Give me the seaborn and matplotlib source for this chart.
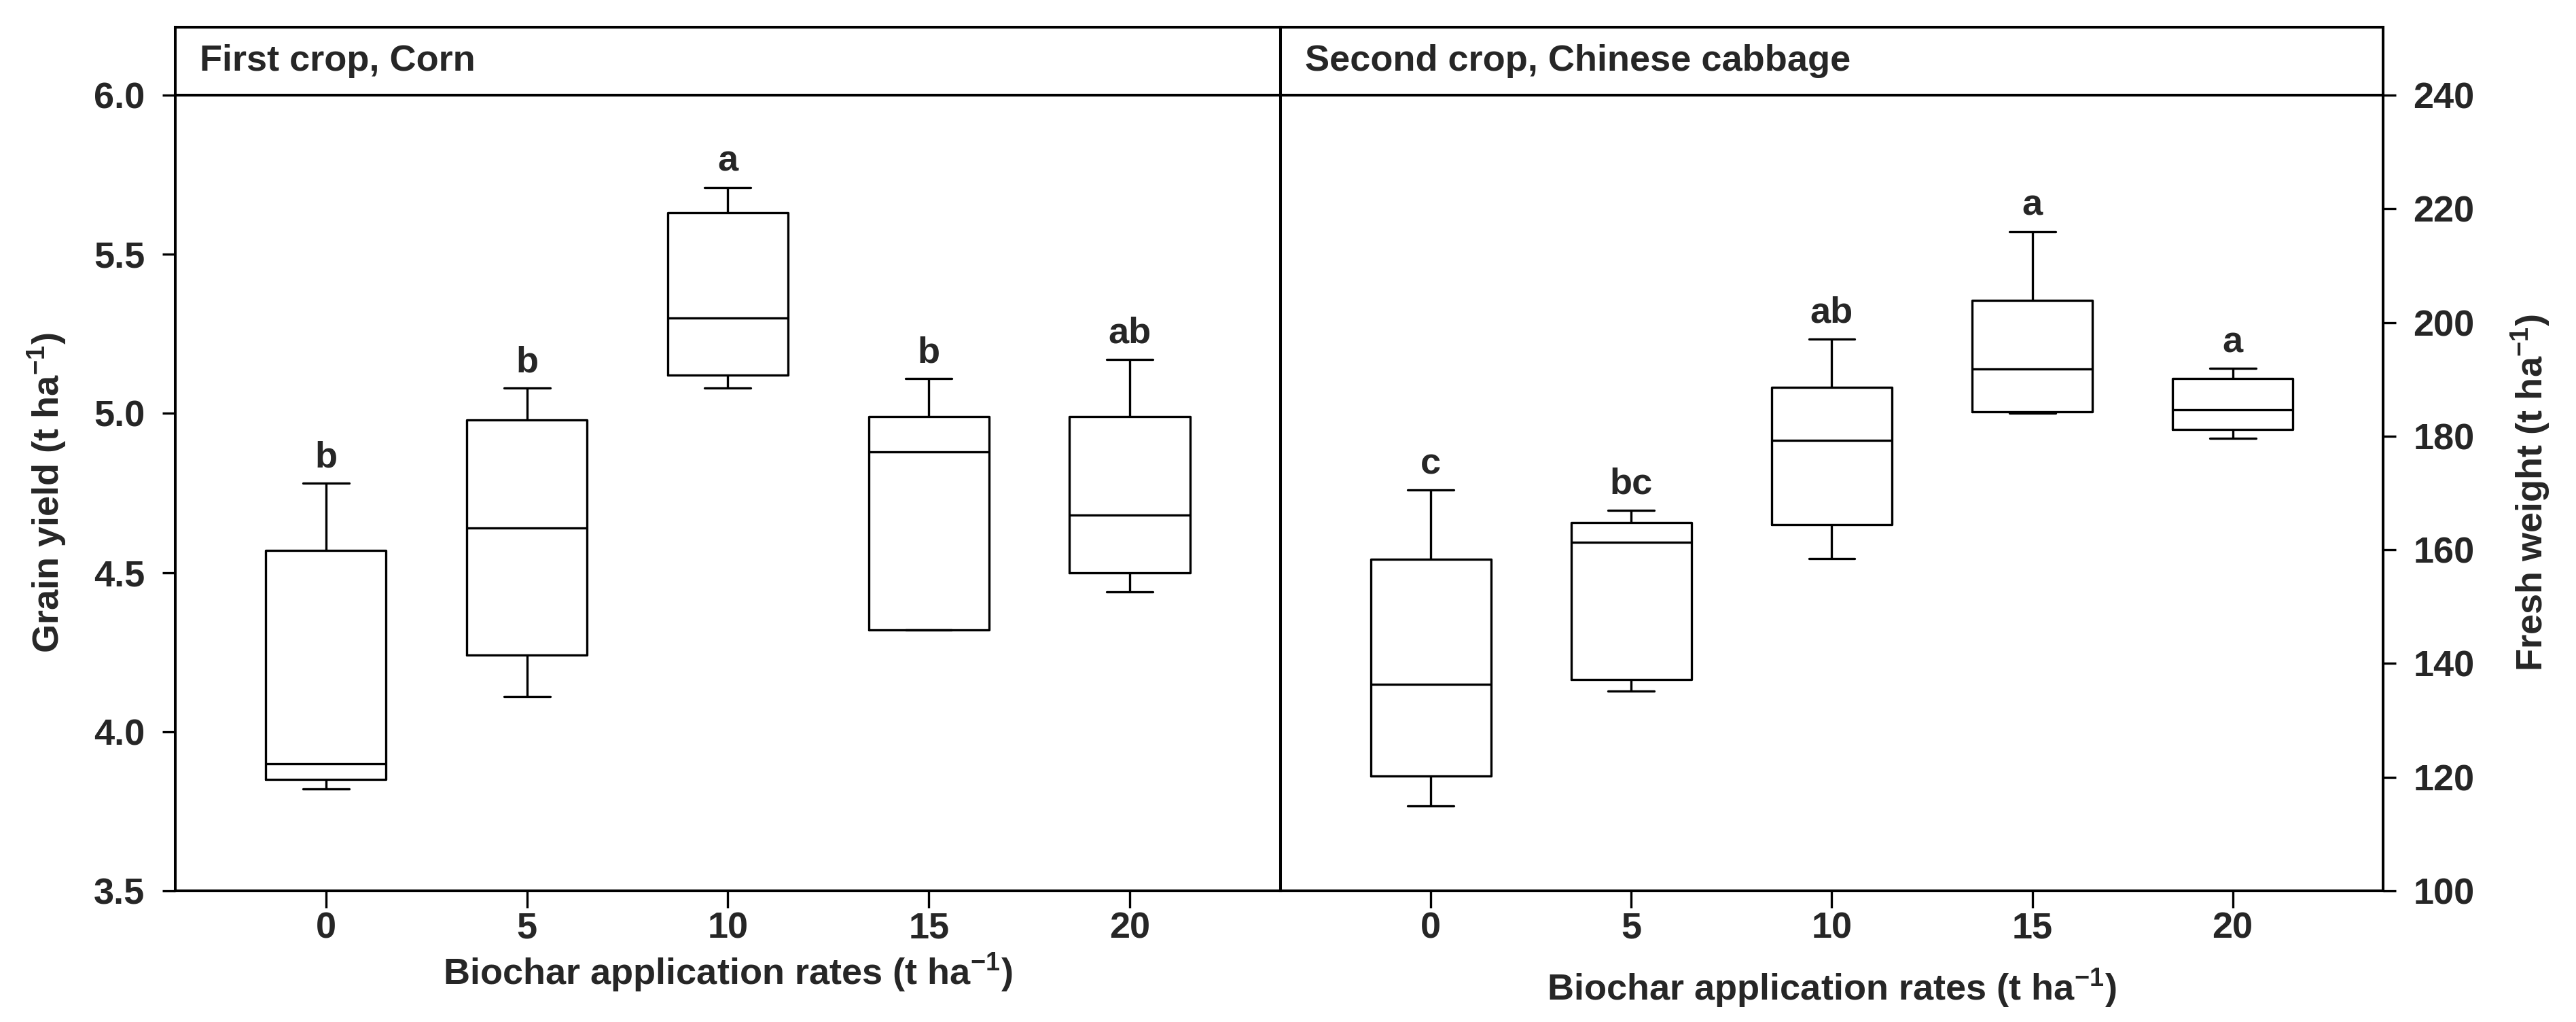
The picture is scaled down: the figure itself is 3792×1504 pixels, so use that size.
import numpy as np
import pandas as pd
import matplotlib
matplotlib.use("Agg")
import matplotlib.pyplot as plt
import seaborn as sns

# ===============================
# Data (five-number summaries)
# ===============================
rates = ["0", "5", "10", "15", "20"]

corn_min = [3.82, 4.11, 5.08, 4.32, 4.44]
corn_q1 = [3.85, 4.24, 5.12, 4.32, 4.50]
corn_med = [3.90, 4.64, 5.30, 4.88, 4.68]
corn_q3 = [4.57, 4.98, 5.63, 4.99, 4.99]
corn_max = [4.78, 5.08, 5.71, 5.11, 5.17]
corn_letters = ["b", "b", "a", "b", "ab"]

cabbage_min = [114.9, 135.1, 158.5, 184.1, 179.6]
cabbage_q1 = [120.2, 137.2, 164.4, 184.3, 181.2]
cabbage_med = [136.4, 161.3, 179.3, 191.8, 184.7]
cabbage_q3 = [158.3, 164.8, 188.6, 203.9, 190.2]
cabbage_max = [170.5, 167.0, 197.1, 216.0, 191.9]
cabbage_letters = ["c", "bc", "ab", "a", "a"]

corn_ticks = [3.5, 4.0, 4.5, 5.0, 5.5, 6.0]
cabbage_ticks = [100, 120, 140, 160, 180, 200, 220, 240]


def long_table(mins, q1s, meds, q3s, maxs):
    rows = []
    for i, r in enumerate(rates):
        for v in (mins[i], q1s[i], meds[i], q3s[i], maxs[i]):
            rows.append({"rate": r, "value": v})
    return pd.DataFrame(rows)


corn_df = long_table(corn_min, corn_q1, corn_med, corn_q3, corn_max)
cabbage_df = long_table(cabbage_min, cabbage_q1, cabbage_med, cabbage_q3, cabbage_max)

# ===============================
# Style
# ===============================
sns.set_style("white")
plt.rcParams["font.family"] = ["Liberation Sans", "DejaVu Sans"]
plt.rcParams["font.weight"] = "bold"
plt.rcParams["mathtext.default"] = "regular"
plt.rcParams["axes.linewidth"] = 1.45
FS = 19.5
LW = 1.2

fig = plt.figure(figsize=(18.96, 7.52), dpi=200)

x_l0, x_mid, x_r1 = 0.0680, 0.4971, 0.9251
y0, y1, y_top = 0.1283, 0.9069, 0.9734

ax_l = fig.add_axes([x_l0, y0, x_mid - x_l0, y1 - y0])
ax_r = fig.add_axes([x_mid, y0, x_r1 - x_mid, y1 - y0])
hd_l = fig.add_axes([x_l0, y1, x_mid - x_l0, y_top - y1])
hd_r = fig.add_axes([x_mid, y1, x_r1 - x_mid, y_top - y1])

box_kws = dict(order=rates, fill=False, color="black", linewidth=LW,
               width=0.6, whis=(0, 100), showfliers=False, capwidths=0.23)

sns.boxplot(data=corn_df, x="rate", y="value", ax=ax_l, **box_kws)
sns.boxplot(data=cabbage_df, x="rate", y="value", ax=ax_r, **box_kws)

# ===============================
# Significance letters
# ===============================
for ax, tops, letters in ((ax_l, corn_max, corn_letters), (ax_r, cabbage_max, cabbage_letters)):
    for i, (t, let) in enumerate(zip(tops, letters)):
        ax.annotate(let, xy=(i, t), xytext=(0, 8.6), textcoords="offset points",
                    ha="center", va="baseline", fontsize=FS, fontweight="bold")

# ===============================
# Axes formatting
# ===============================
for ax in (ax_l, ax_r):
    ax.set_xlim(-0.75, 4.75)
    for s in ax.spines.values():
        s.set_visible(True)
        s.set_color("black")
        s.set_linewidth(1.45)
    ax.tick_params(axis="x", which="major", bottom=True, top=False, length=9,
                   width=1.2, pad=2, labelsize=FS, color="black")
    ax.set_xlabel("Biochar application rates (t ha$^{-1}$)", fontsize=FS, fontweight="bold")

ax_l.set_ylim(3.5, 6.0)
ax_l.set_yticks(corn_ticks)
ax_l.set_yticklabels([f"{t:.1f}" for t in corn_ticks])
ax_l.tick_params(axis="y", left=True, right=False, length=7, width=1.2, pad=9,
                 labelsize=FS, color="black")
ax_l.set_ylabel("Grain yield (t ha$^{-1}$)", fontsize=FS, fontweight="bold")
ax_l.yaxis.set_label_coords(-0.1156, 0.5)
ax_l.yaxis.label.set_va("center")
ax_l.xaxis.set_label_coords(0.5, -0.1033)
ax_l.xaxis.label.set_va("center")

ax_r.set_ylim(100, 240)
ax_r.set_yticks(cabbage_ticks)
ax_r.yaxis.tick_right()
ax_r.yaxis.set_label_position("right")
ax_r.tick_params(axis="y", left=False, right=True, labelleft=False, labelright=True,
                 length=7, width=1.2, pad=9, labelsize=FS, color="black")
ax_r.set_ylabel("Fresh weight (t ha$^{-1}$)", fontsize=FS, fontweight="bold", rotation=90)
ax_r.yaxis.set_label_coords(1.134, 0.5)
ax_r.yaxis.label.set_va("center")
ax_r.xaxis.set_label_coords(0.5, -0.123)
ax_r.xaxis.label.set_va("center")

for ax in (ax_l, ax_r):
    for lab in ax.get_xticklabels() + ax.get_yticklabels():
        lab.set_fontweight("bold")

# ===============================
# Header strips
# ===============================
for hd, title in ((hd_l, "First crop, Corn"), (hd_r, "Second crop, Chinese cabbage")):
    hd.set_xticks([])
    hd.set_yticks([])
    for s in hd.spines.values():
        s.set_visible(True)
        s.set_color("black")
        s.set_linewidth(1.45)
    hd.text(0.022, 0.5, title, transform=hd.transAxes, ha="left", va="center",
            fontsize=FS, fontweight="bold")

fig.savefig("out.png", dpi=200, facecolor="white")
